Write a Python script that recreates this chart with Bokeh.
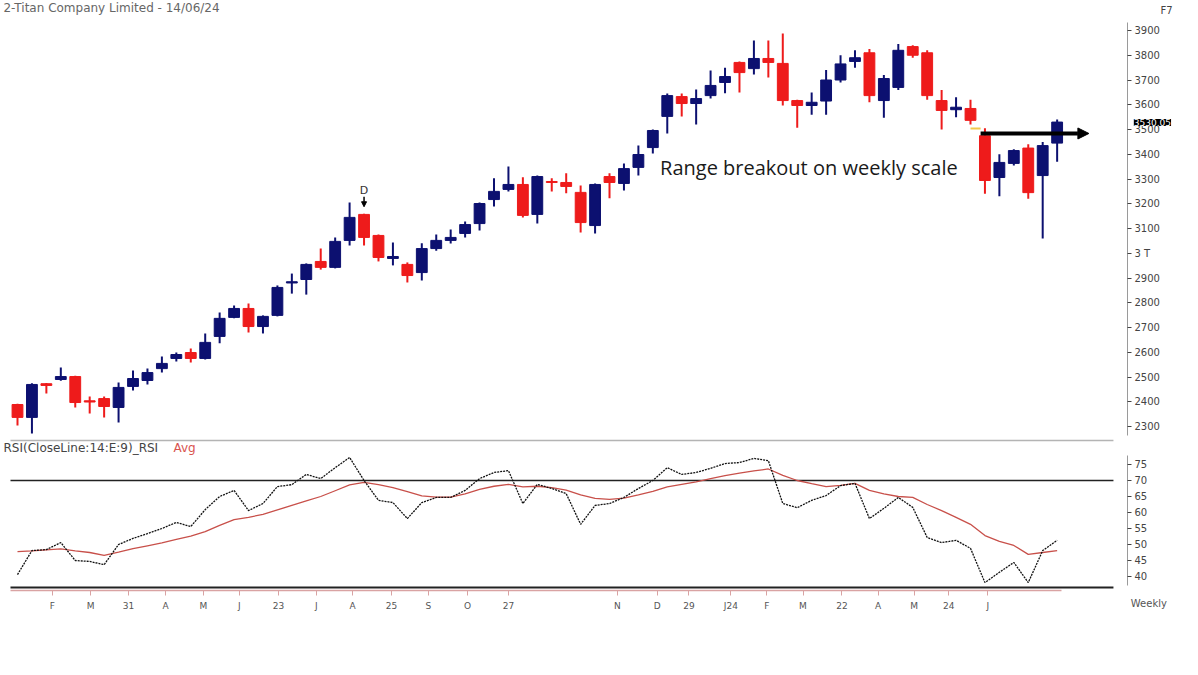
import numpy as np
from bokeh.plotting import figure
from bokeh.layouts import column
from bokeh.models import (Range1d, FixedTicker, Label, Arrow, NormalHead,
                          ColumnDataSource, LinearAxis)
from bokeh.embed import file_html
from bokeh.resources import INLINE

# ---------------- data (weekly candles, Titan Company) ----------------
opens = [2389, 2337, 2473, 2490, 2502, 2404, 2413, 2377, 2462, 2486,
         2534, 2575, 2599, 2575, 2664, 2741, 2777, 2704, 2749, 2880,
         2894, 2967, 2943, 3052, 3157, 3072, 2979, 2955, 2922, 3019,
         3052, 3080, 3120, 3217, 3258, 3278, 3157, 3290, 3286, 3246,
         3112, 3310, 3282, 3347, 3427, 3553, 3633, 3605, 3637, 3690,
         3771, 3746, 3787, 3767, 3617, 3597, 3615, 3700, 3775, 3810,
         3617, 3670, 3835, 3810, 3617, 3580, 3585, 3475, 3306, 3363,
         3425, 3314, 3445]
highs = [2392, 2475, 2476, 2539, 2505, 2421, 2421, 2478, 2526, 2534,
         2583, 2599, 2615, 2676, 2761, 2789, 2797, 2749, 2870, 2918,
         2959, 3019, 3064, 3205, 3160, 3076, 3044, 2963, 3040, 3076,
         3096, 3128, 3205, 3303, 3351, 3307, 3314, 3303, 3323, 3274,
         3282, 3323, 3363, 3435, 3500, 3645, 3645, 3662, 3738, 3750,
         3775, 3860, 3860, 3888, 3620, 3650, 3740, 3800, 3820, 3825,
         3720, 3845, 3840, 3820, 3660, 3630, 3620, 3505, 3400, 3420,
         3440, 3450, 3540]
lows = [2304, 2272, 2433, 2485, 2377, 2353, 2337, 2316, 2446, 2470,
        2518, 2563, 2559, 2571, 2636, 2737, 2680, 2676, 2745, 2837,
        2833, 2934, 2939, 3031, 3031, 2967, 2951, 2882, 2890, 3010,
        3039, 3064, 3092, 3189, 3250, 3145, 3120, 3250, 3242, 3084,
        3080, 3222, 3254, 3314, 3403, 3484, 3553, 3520, 3625, 3646,
        3650, 3722, 3710, 3597, 3507, 3560, 3560, 3690, 3750, 3610,
        3548, 3660, 3790, 3620, 3500, 3550, 3520, 3240, 3230, 3355,
        3220, 3060, 3370]
closes = [2337, 2470, 2466, 2502, 2397, 2399, 2381, 2458, 2494, 2518,
          2555, 2591, 2575, 2640, 2737, 2777, 2704, 2745, 2862, 2885,
          2955, 2943, 3048, 3145, 3064, 2983, 2987, 2910, 3019, 3052,
          3064, 3116, 3201, 3250, 3278, 3153, 3310, 3286, 3270, 3124,
          3278, 3286, 3342, 3399, 3496, 3637, 3605, 3625, 3678, 3714,
          3730, 3787, 3771, 3617, 3597, 3610, 3700, 3765, 3790, 3637,
          3706, 3820, 3800, 3637, 3577, 3590, 3537, 3294, 3367, 3415,
          3245, 3435, 3530.05]

rsi = [40.6, 48.1, 48.4, 50.6, 45.0, 44.7, 43.7, 50.0, 51.9, 53.4,
       55.0, 56.9, 55.6, 60.9, 65.0, 66.9, 60.6, 62.8, 68.1, 68.7,
       71.9, 70.6, 74.0, 77.2, 70.0, 63.8, 63.1, 58.1, 63.1, 64.7,
       64.7, 66.9, 70.6, 72.5, 73.1, 62.8, 68.8, 67.5, 65.9, 56.3,
       62.2, 62.8, 64.7, 67.5, 70.0, 74.0, 71.9, 72.5, 73.8, 75.3,
       75.6, 76.9, 76.2, 62.8, 61.5, 63.8, 65.3, 68.4, 69.1, 58.1,
       61.3, 64.7, 61.6, 52.2, 50.6, 51.3, 48.8, 38.1, 41.3, 44.4,
       38.1, 48.1, 51.3]
rsi_avg = [47.8, 48.0, 48.3, 48.6, 48.0, 47.5, 46.6, 47.6, 48.7, 49.6,
           50.5, 51.6, 52.6, 54.0, 56.0, 57.8, 58.5, 59.4, 60.8, 62.2,
           63.6, 65.0, 66.8, 68.6, 69.4, 68.7, 67.8, 66.5, 65.2, 64.8,
           64.8, 65.8, 67.2, 68.2, 68.8, 68.0, 68.2, 67.8, 67.0, 65.5,
           64.4, 64.1, 64.5, 65.5, 66.6, 68.0, 68.8, 69.6, 70.6, 71.5,
           72.3, 73.0, 73.6, 71.6, 70.0, 69.0, 68.1, 68.5, 69.1, 66.9,
           65.8, 65.0, 64.7, 62.5, 60.6, 58.5, 56.3, 52.8, 51.0, 49.7,
           46.9, 47.5, 48.1]

x_tick_pos = [2.42, 5.06, 7.69, 10.25, 12.88, 15.37, 18.07, 20.7, 23.2, 25.9,
              28.46, 31.16, 34.0, 41.55, 44.3, 46.5, 49.4, 51.9, 54.4, 57.1,
              59.6, 62.1, 64.5, 67.2]
x_tick_lbl = ["F", "M", "31", "A", "M", "J", "23", "J", "A", "25",
              "S", "O", "27", "N", "D", "29", "J24", "F", "M", "22",
              "A", "M", "24", "J"]
price_ticks = list(range(2300, 4000, 100))
rsi_ticks = [40, 45, 50, 55, 60, 65, 70, 75]
rsi_upper = 70
breakout_level = 3484
d_signal_index = 24

BLUE = "#0c1070"
RED = "#ee1b1b"
FONT = "DejaVu Sans"

# plot geometry (index / value space)
X_LEFT, X_RIGHT = -0.485, 75.9       # extent of panel lines
AXIS_X = 76.87                        # location of the right value axes

n = len(opens)
idx = np.arange(n)
o = np.array(opens, float); h = np.array(highs, float)
l = np.array(lows, float); c = np.array(closes, float)
up = c >= o

def src(mask):
    return ColumnDataSource(dict(x=idx[mask], top=np.maximum(o, c)[mask],
                                 bottom=np.minimum(o, c)[mask],
                                 high=h[mask], low=l[mask]))

xr = Range1d(-1.177, 81.79)

def style_value_axis(ax):
    ax.axis_line_color = "#9a9a9a"
    ax.major_tick_line_color = "#444444"
    ax.major_tick_out = 4
    ax.major_tick_in = 0
    ax.minor_tick_line_color = None
    ax.major_label_text_font = FONT
    ax.major_label_text_font_size = "10px"
    ax.major_label_text_color = "#444444"
    ax.major_label_standoff = 3

# ---------------- price panel ----------------
p = figure(width=1198, height=442, output_backend="svg", toolbar_location=None,
           x_range=xr, y_range=Range1d(2235.5, 4021.2), title=None,
           x_axis_location=None, y_axis_location=None, min_border=0)
p.grid.visible = False
p.outline_line_color = None

for mask, col in ((up, BLUE), (~up, RED)):
    s = src(mask)
    p.segment(x0="x", y0="low", x1="x", y1="high", source=s, line_color=col, line_width=2)
    p.vbar(x="x", top="top", bottom="bottom", width=0.75, source=s,
           fill_color=col, line_color=col, line_width=1)

ya = LinearAxis(fixed_location=AXIS_X, ticker=FixedTicker(ticks=price_ticks),
                major_label_overrides={3000: "3 T"}, bounds=(2264, 3932))
style_value_axis(ya)
p.add_layout(ya, "right")

# panel separator
p.segment(x0=[X_LEFT], x1=[X_RIGHT], y0=[2243.6], y1=[2243.6],
          line_color="#b4b4b4", line_width=1.5)

# breakout arrow
p.add_layout(Arrow(x_start=66.7, y_start=breakout_level, x_end=74.2, y_end=breakout_level,
                   line_color="black", line_width=4,
                   end=NormalHead(size=11, fill_color="black", line_color="black")))
p.segment(x0=[66.0], y0=[3504], x1=[66.7], y1=[3504], line_color="#f2c94c", line_width=2)
p.add_layout(Label(x=44.5, y=3346, text="Range breakout on weekly scale",
                   text_font="Open Sans", text_font_size="20px", text_color="#1a1a1a",
                   text_baseline="middle"))

# D signal
p.add_layout(Label(x=d_signal_index, y=3254, text="D", text_font=FONT,
                   text_font_size="11px", text_color="#333333",
                   text_align="center", text_baseline="middle"))
p.add_layout(Arrow(x_start=d_signal_index, y_start=3228, x_end=d_signal_index, y_end=3188,
                   line_color="black", line_width=1.5,
                   end=NormalHead(size=5, fill_color="black", line_color="black")))

# last price box
p.add_layout(Label(x=78.6, y=3528, text=f"{closes[-1]:.2f}", text_font=FONT,
                   text_font_size="9px", text_color="white", background_fill_color="black",
                   text_align="center", text_baseline="middle", level="overlay"))

# header texts
p.add_layout(Label(x=-0.97, y=3989, text="2-Titan Company Limited - 14/06/24",
                   text_font=FONT, text_font_size="12px", text_color="#666666",
                   text_baseline="middle"))
p.add_layout(Label(x=79.15, y=3981, text="F7", text_font=FONT, text_font_size="10px",
                   text_color="#444444", text_baseline="middle"))

# ---------------- RSI panel ----------------
r = figure(width=1198, height=233, output_backend="svg", toolbar_location=None,
           x_range=xr, y_range=Range1d(9.06, 81.875), title=None,
           x_axis_location=None, y_axis_location=None, min_border=0)
r.grid.visible = False
r.outline_line_color = None

r.segment(x0=[X_LEFT, X_LEFT], x1=[X_RIGHT, X_RIGHT], y0=[rsi_upper, 36.56],
          y1=[rsi_upper, 36.56], line_color="#222222", line_width=[1.5, 2])

r.line(idx, rsi_avg, line_color="#c8504a", line_width=1.3)
r.line(idx, rsi, line_color="#111111", line_width=1.3, line_dash="2 1")

ry = LinearAxis(fixed_location=AXIS_X, ticker=FixedTicker(ticks=rsi_ticks),
                bounds=(37.2, 77.8))
style_value_axis(ry)
r.add_layout(ry, "right")

rx = LinearAxis(fixed_location=35.625, ticker=FixedTicker(ticks=x_tick_pos),
                major_label_overrides={t: s for t, s in zip(x_tick_pos, x_tick_lbl)},
                bounds=(X_LEFT, 72.3))
rx.axis_line_color = "#d9a3a3"
rx.axis_line_width = 1.5
rx.major_tick_line_color = "#d9a3a3"
rx.major_tick_out = 5
rx.major_tick_in = 0
rx.minor_tick_line_color = None
rx.major_label_text_font = FONT
rx.major_label_text_font_size = "9px"
rx.major_label_text_color = "#555555"
rx.major_label_standoff = 6
r.add_layout(rx, "below")

r.add_layout(Label(x=-0.97, y=80.0, text="RSI(CloseLine:14:E:9)_RSI", text_font=FONT,
                   text_font_size="12px", text_color="#444444", text_baseline="middle"))
r.add_layout(Label(x=10.8, y=80.0, text="Avg", text_font=FONT, text_font_size="12px",
                   text_color="#d9534f", text_baseline="middle"))
r.add_layout(Label(x=77.1, y=31.6, text="Weekly", text_font=FONT, text_font_size="10px",
                   text_color="#555555", text_baseline="middle"))

layout = column(p, r, spacing=0)
open("out.html", "w").write(file_html(layout, INLINE))
